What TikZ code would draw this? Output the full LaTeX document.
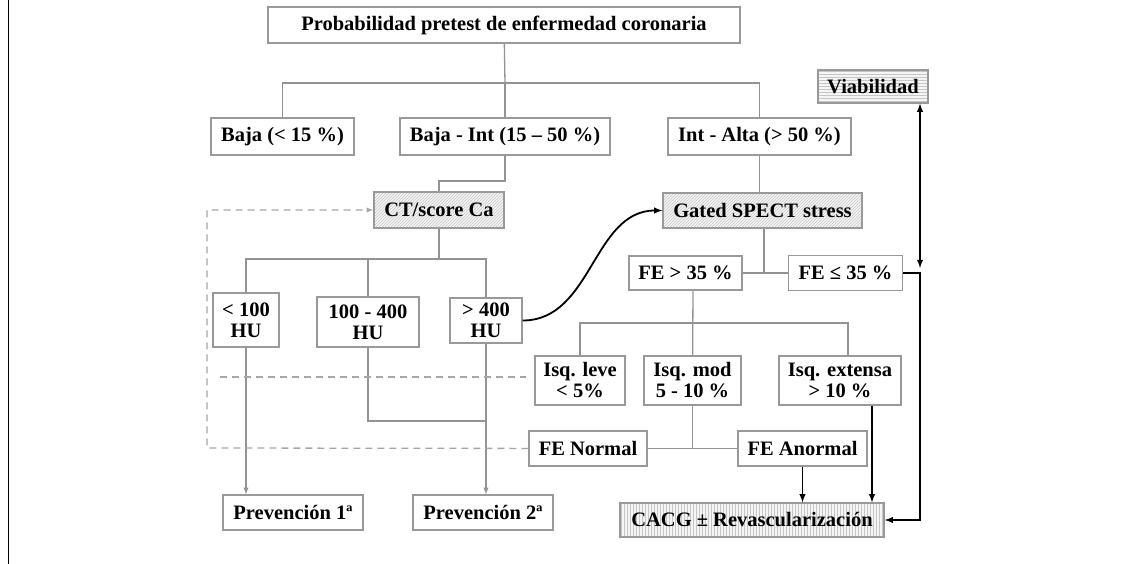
\documentclass[tikz,border=0pt]{standalone}
\usepackage{fontspec}
\setmainfont{Liberation Serif}
\usetikzlibrary{patterns}

\begin{document}
\begin{tikzpicture}[>=latex,x=1pt,y=-1pt,
	box/.style={draw=gray!80,line width=1.3pt,fill=white,inner sep=0pt,
		align=center,font=\bfseries\fontsize{20.5}{21}\selectfont},
	schraffur/.style={box,preaction={fill=gray!8},pattern color=gray!45,pattern=#1},
	ast/.style={draw=gray!85,line width=1.3pt},
	pfeil/.style={draw=black,line width=1.8pt,->},
	dashline/.style={draw=gray!70,line width=1.3pt,dash pattern=on 7pt off 5pt}]

\def\kasten#1#2#3#4#5{
	\node[box,minimum width=#3pt,minimum height=#4pt] (#1) at #2 {#5};
}

\useasboundingbox (0,0) rectangle (1128,564);
\draw[line width=1.5pt] (8.5,0) -- (8.5,564);

\kasten{titel}{(504,25)}{472}{36}{Probabilidad pretest de enfermedad coronaria}
\kasten{baja}{(282.5,136.5)}{143}{37}{Baja (< 15 \%)}
\kasten{bajaint}{(505,136.5)}{210}{37}{Baja - Int (15 -- 50 \%)}
\kasten{intalta}{(759.5,136.5)}{183}{37}{Int - Alta (> 50 \%)}
\node[schraffur=horizontal lines,minimum width=110pt,minimum height=33pt] (viab) at (873,86.5) {Viabilidad};
\node[schraffur=north east lines,minimum width=130pt,minimum height=36pt] (ct) at (439,210) {CT/score Ca};
\node[schraffur=north east lines,minimum width=199pt,minimum height=35pt] (gated) at (762.5,210.5) {Gated SPECT stress};

\kasten{hu1}{(246,320)}{66}{54}{< 100\\HU}
\kasten{hu2}{(368,322)}{102}{50}{100 - 400\\HU}
\kasten{hu3}{(486,320.5)}{72}{45}{> 400\\HU}
\kasten{fe1}{(685.5,273)}{113}{34}{FE > 35 \%}
\kasten{fe2}{(845.5,273)}{114}{35}{FE ≤ 35 \%}

\kasten{isq1}{(580,380.5)}{90}{49}{Isq. leve\\< 5\%}
\kasten{isq2}{(692.5,380.5)}{97}{49}{Isq. mod\\5 - 10 \%}
\kasten{isq3}{(840,380.5)}{122}{49}{Isq. extensa\\> 10 \%}
\kasten{fen}{(588,448.5)}{118}{35}{FE Normal}
\kasten{fea}{(802.5,448.5)}{129}{35}{FE Anormal}

\kasten{prev1}{(293,512.5)}{140}{35}{Prevención 1ª}
\kasten{prev2}{(483,512.5)}{140}{35}{Prevención 2ª}
\node[schraffur=vertical lines,minimum width=264pt,minimum height=34pt] (cacg) at (752,520) {CACG ± Revascularización};

\coordinate (k1) at (505,83);
\coordinate (k2) at (505,181);
\coordinate (k3) at (439,259);
\coordinate (k4) at (764,273);
\coordinate (k5) at (693,323);
\coordinate (k6) at (848,323);
\coordinate (k7) at (920,273);
\coordinate (k8) at (207,448);
\coordinate (k9) at (220,377);
\coordinate (k10) at (486,421);

\draw[ast] (titel) -- (k1);
\draw[ast] (baja) |- (k1) -| (intalta);
\draw[ast] (k1) -- (bajaint);
\draw[ast] (bajaint) -- (k2) -| (ct);
\draw[ast] (intalta) -- (intalta |- gated.north);

\draw[ast] (ct) -- (k3);
\draw[ast] (hu1) |- (k3) -| (hu3);
\draw[ast] (hu2) -- (hu2 |- k3);
\draw[ast,->] (hu1) -- (hu1 |- prev1.north);
\draw[ast] (hu2) |- (k10);
\draw[ast,->] (hu3) -- (hu3 |- prev2.north);

\draw[ast] (gated.south -| k4) -- (k4);
\draw[ast] (fe1) -- (fe2);
\draw[ast] (fe1.south -| k5) -- (isq2);
\draw[ast] (isq1) |- (k5) -| (k6) -- (k6 |- isq3.north);
\draw[ast] (isq2) -- (isq2 |- fen);
\draw[ast] (fen) -- (fea);

\draw[pfeil] (fea) -- (fea |- cacg.north);
\draw[pfeil] ([xshift=32pt]isq3.south) -- ([xshift=32pt]isq3.south |- cacg.north);
\draw[pfeil] (fe2) -- (k7) |- (cacg);
\draw[pfeil,<->] (viab.south -| k7) -- ([yshift=5pt]k7);
\draw[pfeil] (hu3.east) to[out=0,in=180] (gated.west);

\draw[dashline,->] (fen) -- (k8) |- (ct);
\draw[dashline,shorten >=8pt] (k9) -- (k9 -| isq1.west);

\end{tikzpicture}
\end{document}
